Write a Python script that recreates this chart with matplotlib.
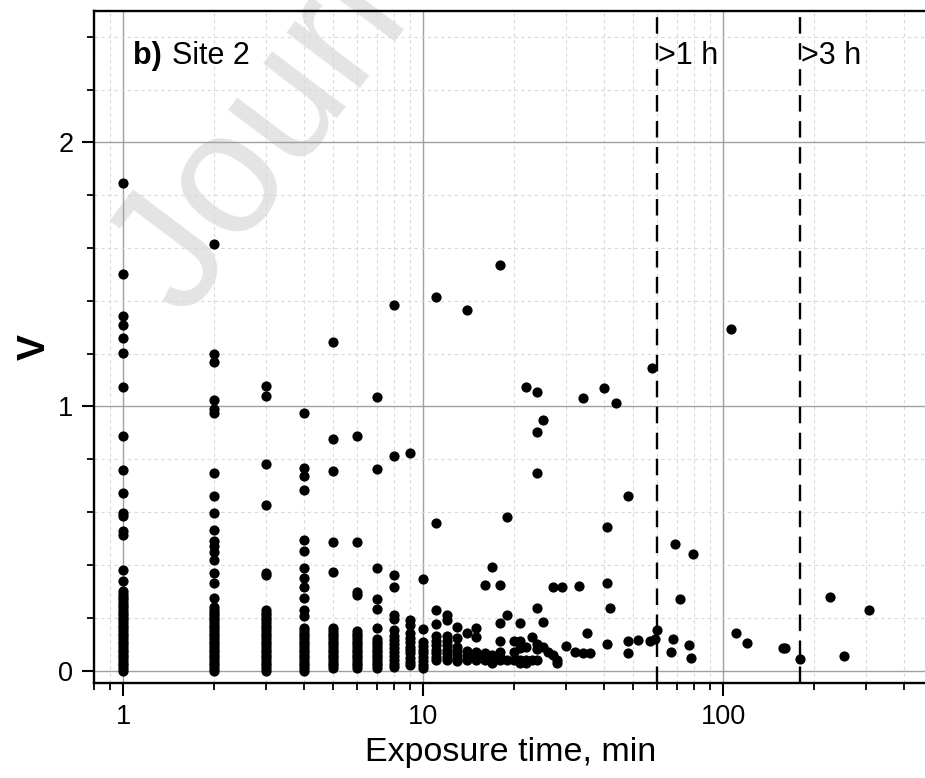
import matplotlib
matplotlib.use("Agg")
import matplotlib.pyplot as plt
from matplotlib.ticker import LogLocator, MultipleLocator, NullFormatter, FuncFormatter

plt.rcParams["font.family"] = ["Liberation Sans", "DejaVu Sans"]

# V values at the short, densely sampled exposure times (min)
v_1min = [0.00, 0.01, 0.02, 0.03, 0.04, 0.05, 0.06, 0.07, 0.08, 0.09, 0.10, 0.11,
          0.12, 0.13, 0.14, 0.15, 0.16, 0.17, 0.18, 0.19, 0.20, 0.21, 0.22, 0.23,
          0.24, 0.25, 0.26, 0.27, 0.28, 0.29, 0.30, 0.341, 0.381, 0.514, 0.530,
          0.586, 0.598, 0.674, 0.760, 0.889, 1.073, 1.204, 1.260, 1.308, 1.343,
          1.500, 1.845]
v_2min = [0.00, 0.01, 0.02, 0.03, 0.04, 0.05, 0.06, 0.07, 0.08, 0.09, 0.10, 0.11,
          0.12, 0.13, 0.14, 0.15, 0.16, 0.17, 0.18, 0.19, 0.20, 0.21, 0.22, 0.23,
          0.24, 0.274, 0.331, 0.369, 0.419, 0.451, 0.470, 0.489, 0.533, 0.596,
          0.663, 0.747, 0.975, 0.990, 1.023, 1.170, 1.198, 1.615]
v_3min = [0.00, 0.01, 0.02, 0.03, 0.04, 0.05, 0.06, 0.07, 0.08, 0.09, 0.10, 0.11,
          0.12, 0.13, 0.14, 0.15, 0.16, 0.17, 0.18, 0.19, 0.20, 0.21, 0.22, 0.23,
          0.362, 0.371, 0.628, 0.783, 1.041, 1.078]
v_4min = [0.00, 0.01, 0.02, 0.03, 0.04, 0.05, 0.06, 0.07, 0.08, 0.09, 0.10, 0.11,
          0.12, 0.13, 0.14, 0.15, 0.16, 0.205, 0.230, 0.274, 0.316, 0.350, 0.390,
          0.453, 0.495, 0.684, 0.737, 0.766, 0.977]
v_5min = [0.01, 0.02, 0.03, 0.04, 0.05, 0.06, 0.07, 0.08, 0.09, 0.10, 0.11, 0.12,
          0.13, 0.14, 0.15, 0.16, 0.372, 0.486, 0.754, 0.876, 1.245]
v_6min = [0.01, 0.02, 0.03, 0.04, 0.05, 0.06, 0.07, 0.08, 0.09, 0.10, 0.11, 0.12,
          0.13, 0.14, 0.15, 0.287, 0.299, 0.486, 0.890]
v_7min = [0.01, 0.02, 0.03, 0.04, 0.05, 0.06, 0.07, 0.08, 0.09, 0.10, 0.11, 0.12,
          0.160, 0.235, 0.271, 0.390, 0.764, 1.035]

# sparser part, exposure time (min) and V
t_rest = [8, 8, 8, 8, 8, 8, 8, 8, 8, 8, 8, 8, 8, 8, 8, 8,
          9, 9, 9, 9, 9, 9, 9, 9, 9, 9, 9, 9,
          10, 10, 10, 10, 10, 10, 10, 10, 10, 10,
          11, 11, 11, 11, 11, 11, 11, 11, 11, 11, 11,
          12, 12, 12, 12, 12, 12, 12, 12, 12,
          13, 13, 13, 13, 13, 13, 13,
          14, 14, 14, 14, 14,
          15, 15, 15, 15, 15,
          16, 16, 16, 16,
          17, 17, 17, 17,
          18, 18, 18, 18, 18, 18, 18,
          19, 19, 19,
          20, 20, 20,
          21, 21, 21, 21, 21,
          22, 22, 22, 22,
          23, 23,
          24, 24, 24, 24, 24, 24, 24,
          25, 25, 25,
          26, 27, 27, 28, 28, 29, 30, 32, 33, 34, 34, 35, 36,
          40, 41, 41, 41, 42, 44, 48, 48, 48, 52, 57, 58, 59, 60,
          67, 68, 69, 72, 77, 78, 79,
          106, 110, 120, 158, 161, 180, 227, 253, 306]
v_rest = [1.383, 0.813, 0.362, 0.316, 0.211, 0.194, 0.154, 0.130, 0.116, 0.100, 0.085, 0.070, 0.055, 0.040, 0.025, 0.015,
          0.823, 0.192, 0.173, 0.143, 0.125, 0.110, 0.091, 0.078, 0.066, 0.047, 0.033, 0.020,
          0.348, 0.157, 0.110, 0.095, 0.080, 0.065, 0.050, 0.035, 0.020, 0.010,
          1.413, 0.558, 0.230, 0.176, 0.130, 0.112, 0.097, 0.080, 0.068, 0.052, 0.040,
          0.211, 0.190, 0.130, 0.112, 0.097, 0.080, 0.066, 0.052, 0.040,
          0.164, 0.124, 0.090, 0.075, 0.060, 0.045, 0.035,
          1.365, 0.141, 0.075, 0.055, 0.040,
          0.160, 0.129, 0.070, 0.050, 0.040,
          0.326, 0.065, 0.050, 0.040,
          0.391, 0.060, 0.045, 0.030,
          1.534, 0.326, 0.182, 0.112, 0.070, 0.050, 0.040,
          0.580, 0.211, 0.040,
          0.112, 0.070, 0.040,
          0.182, 0.112, 0.085, 0.040, 0.030,
          1.075, 0.090, 0.040, 0.030,
          0.128, 0.040,
          1.055, 0.902, 0.747, 0.238, 0.100, 0.081, 0.040,
          0.947, 0.186, 0.091,
          0.070, 0.317, 0.060, 0.040, 0.030, 0.317, 0.093, 0.069, 0.321, 1.031, 0.066, 0.144, 0.066,
          1.071, 0.542, 0.331, 0.100, 0.236, 1.014, 0.663, 0.112, 0.068, 0.116, 0.112, 1.145, 0.119, 0.152,
          0.072, 0.119, 0.480, 0.271, 0.097, 0.049, 0.443,
          1.293, 0.141, 0.106, 0.087, 0.087, 0.044, 0.277, 0.056, 0.230]

thresholds = [60, 180]
threshold_labels = [">1 h", ">3 h"]

t_all, v_all = [], []
for minute, vals in zip([1, 2, 3, 4, 5, 6, 7],
                        [v_1min, v_2min, v_3min, v_4min, v_5min, v_6min, v_7min]):
    t_all += [minute] * len(vals)
    v_all += vals
t_all += t_rest
v_all += v_rest

fig = plt.figure(figsize=(9.25, 7.78), dpi=100)
ax = fig.add_axes([0.1019, 0.1217, 0.8992, 0.8641])
ax.patch.set_alpha(0)

# faint watermark behind the plot
fig.text(0.20, 0.588, "Journal Pre-proof", rotation=53, rotation_mode="anchor",
         ha="left", va="baseline", fontsize=125, color="#e4e4e4", zorder=-5)

ax.scatter(t_all, v_all, s=54, color="black", linewidths=0, zorder=3, clip_on=False)

for x, lab in zip(thresholds, threshold_labels):
    ax.axvline(x, color="black", lw=1.7, ls=(0, (7, 4)), zorder=4)
    ax.text(x * 1.012, 2.325, lab, fontsize=22, va="center", ha="left", zorder=5)

ax.text(0.046, 0.933, "b)", transform=ax.transAxes, fontsize=22, fontweight="bold",
        va="center", ha="left")
ax.text(0.094, 0.933, "Site 2", transform=ax.transAxes, fontsize=22,
        va="center", ha="left")

ax.set_xscale("log")
ax.set_xlim(0.8, 474)
ax.set_ylim(-0.048, 2.497)

ax.xaxis.set_major_locator(LogLocator(base=10))
ax.xaxis.set_minor_locator(LogLocator(base=10, subs=(2, 3, 4, 5, 6, 7, 8, 9)))
ax.xaxis.set_major_formatter(FuncFormatter(lambda v, p: f"{v:g}"))
ax.xaxis.set_minor_formatter(NullFormatter())
ax.yaxis.set_major_locator(MultipleLocator(1))
ax.yaxis.set_minor_locator(MultipleLocator(0.2))

ax.grid(which="major", color="#a0a0a0", lw=1.0, zorder=1)
ax.grid(which="minor", color="#d9d9d9", lw=0.8, ls=(0, (3, 3)), zorder=1)
ax.set_axisbelow(True)

ax.tick_params(which="major", direction="out", length=9, width=1.5, labelsize=19.5, pad=6)
ax.tick_params(which="minor", direction="out", length=5, width=1.3)
ax.tick_params(top=False, right=False)

for side in ["left", "bottom", "top"]:
    ax.spines[side].set_linewidth(1.7)
ax.spines["right"].set_visible(False)

ax.set_xlabel("Exposure time, min", fontsize=24.5, labelpad=5)
ax.set_ylabel("V", fontsize=28, fontweight="bold", labelpad=4)

fig.savefig("out.png", dpi=100)
